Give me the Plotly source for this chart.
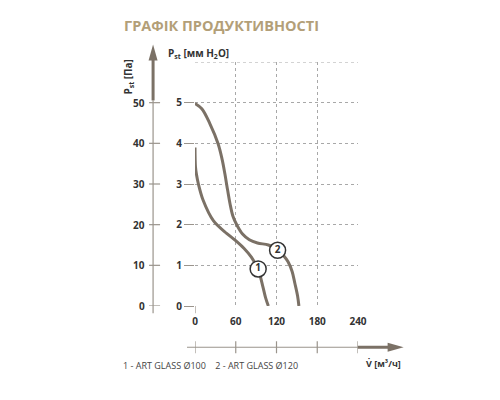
import plotly.graph_objects as go

# flow in m3/h, static pressure in mm H2O
flow_ticks = [0, 60, 120, 180, 240]
mm_ticks = [0, 1, 2, 3, 4, 5]
grid_top = 6
pa_ticks = [0, 10, 20, 30, 40, 50]

curve1_flow = [0, 0.7, 2, 5, 12, 27, 47, 59, 72, 83, 93, 100, 104, 108]
curve1_p = [3.9, 3.42, 3.25, 3.0, 2.6, 2.1, 1.78, 1.62, 1.42, 1.2, 0.9, 0.47, 0.2, 0.0]

curve2_flow = [0, 10, 22, 34, 40, 44, 48, 51.5, 56, 62, 70, 80, 92, 108, 122, 130, 137, 143, 147, 151, 153]
curve2_p = [4.98, 4.85, 4.48, 3.99, 3.6, 3.25, 2.85, 2.52, 2.2, 1.98, 1.77, 1.63, 1.55, 1.5, 1.39, 1.25, 1.09, 0.85, 0.56, 0.25, 0.0]

marker_names = ["1", "2"]
marker_flow = [93, 121.6]
marker_p = [0.91, 1.37]

title = "ГРАФІК ПРОДУКТИВНОСТІ"
legend_text = "1 - ART GLASS Ø100&nbsp;&nbsp;&nbsp;&nbsp;2 - ART GLASS Ø120"

CURVE = "#7b7166"
AXIS = "#9a948c"
TEXT = "#333333"
FONT = "Open Sans"

# the page body adds an 8px offset; positions below are page pixels
OFF = 8
L, R, T, B = 195, 358.3, 61.5, 305.7


def px(x):
    return (x - L) / (R - L)


def py(y):
    return (B - y) / (B - T)


fig = go.Figure()

for fx, fp in ((curve1_flow, curve1_p), (curve2_flow, curve2_p)):
    fig.add_trace(go.Scatter(
        x=fx, y=fp, mode="lines",
        line=dict(color=CURVE, width=3, shape="spline", smoothing=1.0),
        hoverinfo="skip", showlegend=False,
    ))

fig.add_trace(go.Scatter(
    x=marker_flow, y=marker_p, mode="markers+text", text=marker_names,
    textposition="middle center",
    textfont=dict(family=FONT, size=10, color=TEXT, weight="bold"),
    marker=dict(size=16, color="white", line=dict(color=TEXT, width=1.5)),
    hoverinfo="skip", showlegend=False,
))

shapes = []
# top gridline
shapes.append(dict(type="line", xref="x", yref="y", x0=0, x1=240, y0=grid_top, y1=grid_top,
                   line=dict(color="#a8a8a8", width=1, dash="dot"), layer="below"))
# pressure (Pa) axis
shapes.append(dict(type="line", xref="paper", yref="paper",
                   x0=px(153), x1=px(153), y0=py(313), y1=py(100),
                   line=dict(color=AXIS, width=1.2)))
shapes.append(dict(type="line", xref="paper", yref="paper",
                   x0=px(153), x1=px(153), y0=py(100), y1=py(58),
                   line=dict(color=CURVE, width=3)))
shapes.append(dict(type="path", xref="paper", yref="paper",
                   path=f"M {px(148.5)} {py(60)} L {px(153)} {py(44)} L {px(157.5)} {py(60)} Z",
                   fillcolor=CURVE, line=dict(width=0)))
for p in pa_ticks:
    shapes.append(dict(type="line", xref="paper", yref="y",
                       x0=px(149), x1=px(160), y0=p / 10, y1=p / 10,
                       line=dict(color=AXIS, width=1.2)))

# flow axis
shapes.append(dict(type="line", xref="paper", yref="paper",
                   x0=px(187), x1=px(358), y0=py(347), y1=py(347),
                   line=dict(color=AXIS, width=1.2)))
shapes.append(dict(type="line", xref="paper", yref="paper",
                   x0=px(358), x1=px(390), y0=py(347), y1=py(347),
                   line=dict(color=CURVE, width=3)))
shapes.append(dict(type="path", xref="paper", yref="paper",
                   path=f"M {px(388)} {py(342.5)} L {px(404)} {py(347)} L {px(388)} {py(351.5)} Z",
                   fillcolor=CURVE, line=dict(width=0)))
for f in flow_ticks:
    shapes.append(dict(type="line", xref="x", yref="paper",
                       x0=f, x1=f, y0=py(341), y1=py(353),
                       line=dict(color=AXIS, width=1.2)))
# small tick below origin
shapes.append(dict(type="line", xref="x", yref="paper",
                   x0=0, x1=0, y0=py(305.7), y1=py(313),
                   line=dict(color=AXIS, width=1.2)))

annotations = [
    dict(text=f"<b>{title}</b>", x=px(122), y=py(25), xanchor="left", yanchor="middle",
         font=dict(family=FONT, size=14.5, color="#b39f78")),
    dict(text="<b>P<sub>st</sub> [Па]</b>", x=px(128), y=py(76), textangle=-90,
         xanchor="center", yanchor="middle", font=dict(family=FONT, size=10, color=TEXT)),
    dict(text="<b>P<sub>st</sub> [мм H<sub>2</sub>O]</b>", x=px(166), y=py(53),
         xanchor="left", yanchor="middle", font=dict(family=FONT, size=10, color=TEXT)),
    dict(text=legend_text, x=px(121), y=py(365), xanchor="left", yanchor="middle",
         font=dict(family=FONT, size=9, color="#444444")),
    dict(text="<b>V̇ [м³/ч]</b>", x=px(364), y=py(363), xanchor="left", yanchor="middle",
         font=dict(family=FONT, size=9, color=TEXT)),
]
for p in pa_ticks:
    annotations.append(dict(text=f"<b>{p}</b>", xref="paper", yref="y",
                            x=px(147), y=p / 10, xanchor="right", yanchor="middle",
                            font=dict(family=FONT, size=10, color=TEXT)))
for a in annotations:
    a.setdefault("xref", "paper")
    a.setdefault("yref", "paper")
    a["showarrow"] = False

fig.update_layout(
    width=500, height=400,
    margin=dict(l=L - OFF, r=500 - R + OFF, t=T - OFF, b=400 - B + OFF, pad=0),
    paper_bgcolor="white", plot_bgcolor="white",
    shapes=shapes, annotations=annotations,
    xaxis=dict(range=[0, 240], tickvals=flow_ticks, showgrid=True,
               gridcolor="#a8a8a8", griddash="dot", gridwidth=1,
               zeroline=False, showline=False, ticks="",
               ticklabelstandoff=8,
               tickfont=dict(family=FONT, size=10, color=TEXT, weight="bold")),
    yaxis=dict(range=[0, 6], tickvals=mm_ticks, showgrid=True,
               gridcolor="#a8a8a8", griddash="dot", gridwidth=1,
               zeroline=False, showline=False, ticks="outside", ticklen=10,
               tickcolor=AXIS, tickwidth=1.2,
               tickfont=dict(family=FONT, size=10, color=TEXT, weight="bold")),
)

fig.write_html("out.html")
